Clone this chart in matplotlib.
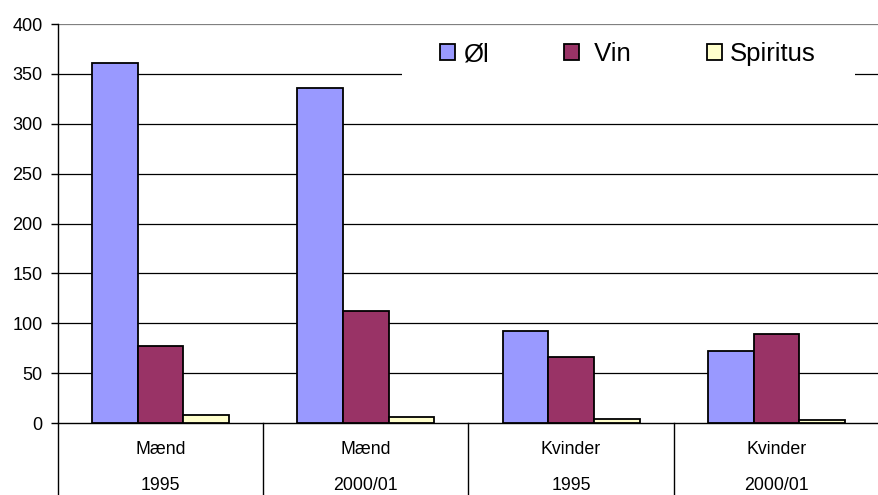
import matplotlib
matplotlib.use("Agg")
import matplotlib.pyplot as plt
import numpy as np
from matplotlib.transforms import blended_transform_factory
from matplotlib.patches import Rectangle

plt.rcParams['font.family'] = ['Liberation Sans', 'DejaVu Sans']

groups = ["Mænd", "Mænd", "Kvinder", "Kvinder"]
years = ["1995", "2000/01", "1995", "2000/01"]
series_names = ["Øl", " Vin", "Spiritus"]
ol = [361, 336, 92, 72]
vin = [77, 112, 66, 89]
spiritus = [8, 6, 4, 3]
colors = ["#9999FF", "#993366", "#FFFFCC"]
yticks = [0, 50, 100, 150, 200, 250, 300, 350, 400]

W, H = 879, 495
fig = plt.figure(figsize=(W / 100, H / 100), dpi=100)
left, right, top, bottom = 58, 879, 24, 423
pw, ph = right - left, bottom - top
ax = fig.add_axes([left / W, (H - bottom) / H, pw / W, ph / H])

x = np.arange(len(groups))
bw = 1 / 4.5
for i, (vals, c, name) in enumerate(zip([ol, vin, spiritus], colors, series_names)):
    ax.bar(x + (i - 1) * bw, vals, bw, color=c, edgecolor="black", linewidth=1.3,
           label=name, zorder=3)

ax.set_xlim(-0.5, len(groups) - 0.5)
ax.set_ylim(0, 400)
ax.set_yticks(yticks)
ax.set_yticklabels([str(t) for t in yticks], fontsize=13)
ax.tick_params(axis="y", length=5, width=1, direction="out", pad=6)
ax.tick_params(axis="x", length=0, labelbottom=False)
for t in yticks[1:]:
    ax.axhline(t, color="#808080" if t == 400 else "black", lw=0.9, zorder=1)

for s in ["top", "right"]:
    ax.spines[s].set_visible(False)
ax.spines["bottom"].set_linewidth(1)
ax.spines["left"].set_visible(False)

trans = blended_transform_factory(ax.transData, ax.transAxes)
ybot = -(H - bottom) / ph
ax.plot([-0.5, -0.5], [ybot, 1], transform=trans, color="black", lw=1, clip_on=False, zorder=5)
for d in x[1:] - 0.5:
    ax.plot([d, d], [ybot, 0], transform=trans, color="black", lw=1, clip_on=False)
for xi, g, yv in zip(x, groups, years):
    ax.text(xi, -(449.5 - bottom) / ph, g, transform=trans, ha="center", va="center", fontsize=12.8)
    ax.text(xi, -(486 - bottom) / ph, yv, transform=trans, ha="center", va="center", fontsize=12.8)

# legend background box
ax.add_patch(Rectangle(((402 - left) / pw, (bottom - 78) / ph), (855 - 402) / pw, (78 - 27) / ph,
                       transform=ax.transAxes, facecolor="white", edgecolor="none", zorder=4))
leg = ax.legend(loc="center left", bbox_to_anchor=((440 - left) / pw, (bottom - 54) / ph),
                ncol=3, frameon=False, fontsize=18.5, handlelength=0.58, handleheight=0.58,
                handletextpad=0.31, columnspacing=2.95, borderaxespad=0, borderpad=0)
leg.set_zorder(6)
for h in leg.legend_handles:
    h.set_linewidth(1.3)

fig.savefig("out.png", dpi=100)
